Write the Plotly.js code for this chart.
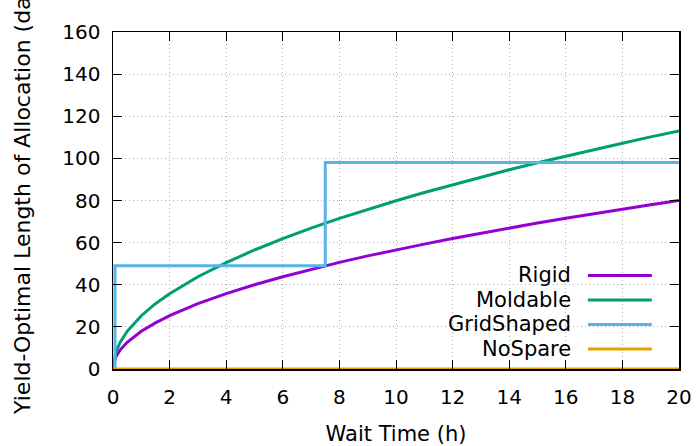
<!DOCTYPE html>
<html>
<head>
<meta charset="utf-8">
<script src="https://cdn.plot.ly/plotly-3.0.1.min.js"></script>
<style>html,body{margin:0;padding:0;background:#fff;}#chart{width:698px;height:446px;}</style>
</head>
<body>
<div id="chart"></div>
<script>
// Wait time (h)
var waitTime = [0, 0.1, 0.25, 0.5, 1, 1.5, 2, 3, 4, 5, 6, 7, 8, 9, 10, 11, 12, 13, 14, 15, 16, 17, 18, 19, 20];
var rigid    = [0, 5.7, 9.0, 12.7, 17.9, 21.9, 25.3, 31.0, 35.8, 40.0, 43.8, 47.3, 50.6, 53.7, 56.6, 59.3, 62.0, 64.5, 66.9, 69.3, 71.6, 73.8, 75.9, 78.0, 80.0];
var moldable = [0, 8.0, 12.6, 17.9, 25.3, 31.0, 35.7, 43.8, 50.5, 56.5, 61.9, 66.9, 71.5, 75.8, 79.9, 83.8, 87.5, 91.1, 94.6, 97.9, 101.1, 104.2, 107.2, 110.2, 113.0];
var gridTime   = [0, 0.07, 0.07, 7.5, 7.5, 20];
var gridShaped = [0, 0, 49, 49, 98, 98];
var noSpareTime = [0, 20];
var noSpare     = [0, 0];

var seriesNames  = ["Rigid", "Moldable", "GridShaped", "NoSpare"];
var seriesColors = ["#9400d3", "#009e73", "#56b4e9", "#e69f00"];
var xTicks = [0, 2, 4, 6, 8, 10, 12, 14, 16, 18, 20];
var yTicks = [0, 20, 40, 60, 80, 100, 120, 140, 160];
var xTitle = "Wait Time (h)";
var yTitle = "Yield-Optimal Length of Allocation (days)";

var FONT = "DejaVu Sans, Liberation Sans, Arial, sans-serif";

var xs = [waitTime, waitTime, gridTime, noSpareTime];
var ys = [rigid, moldable, gridShaped, noSpare];
var traces = seriesNames.map(function (n, i) {
  return {x: xs[i], y: ys[i], name: n, type: "scatter", mode: "lines",
          line: {color: seriesColors[i], width: 3}, cliponaxis: false, showlegend: false};
});

// legend drawn gnuplot-style: right-aligned text followed by a line sample
var L = {textX: 0.8127, x0: 0.839, x1: 0.952, top: 0.2775, step: 0.0727};
var annotations = [];
var shapes = [{type: "rect", xref: "paper", yref: "paper", x0: 0.572, x1: 0.985, y0: 0.005, y1: 0.325,
               fillcolor: "#ffffff", line: {width: 0}, layer: "between"}];
seriesNames.forEach(function (n, i) {
  var yy = L.top - i * L.step;
  annotations.push({text: n, xref: "paper", yref: "paper", x: L.textX, y: yy,
                    xanchor: "right", yanchor: "middle", showarrow: false,
                    font: {family: FONT, size: 21, color: "#000"}});
  shapes.push({type: "line", xref: "paper", yref: "paper", x0: L.x0, x1: L.x1, y0: yy, y1: yy,
               line: {color: seriesColors[i], width: 3}});
});
// y-axis title (as in the reference, its top runs past the picture's edge)
annotations.push({text: yTitle, xref: "paper", yref: "paper", x: -0.161, y: 0.534,
                  xanchor: "center", yanchor: "middle", textangle: -90, showarrow: false,
                  font: {family: FONT, size: 22, color: "#000"}});

var axisCommon = {
  showline: true, linecolor: "#000", linewidth: 1.5, mirror: "ticks",
  ticks: "inside", ticklen: 9, tickwidth: 1, tickcolor: "#000",
  showgrid: true, gridcolor: "#b0b0b0", gridwidth: 1, griddash: "1px,3px",
  zeroline: false, tickfont: {family: FONT, size: 20, color: "#000"}
};

var layout = {
  width: 698, height: 446,
  margin: {l: 113, r: 19, t: 32, b: 77},
  paper_bgcolor: "#fff", plot_bgcolor: "#fff",
  showlegend: false,
  xaxis: Object.assign({}, axisCommon, {
    range: [0, 20], tickvals: xTicks, ticktext: xTicks.map(String), ticklabelstandoff: 9,
    title: {text: xTitle, font: {family: FONT, size: 21, color: "#000"}, standoff: 20}
  }),
  yaxis: Object.assign({}, axisCommon, {
    range: [0, 160], tickvals: yTicks, ticktext: yTicks.map(String), ticklabelstandoff: 7
  }),
  annotations: annotations,
  shapes: shapes
};

Plotly.newPlot("chart", traces, layout, {displayModeBar: false, staticPlot: true});
</script>
</body>
</html>
